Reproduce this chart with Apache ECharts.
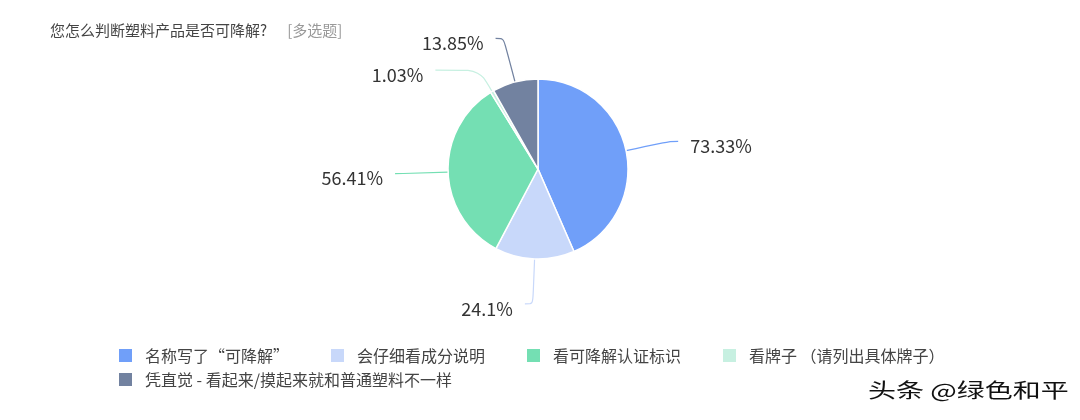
<!DOCTYPE html>
<html>
<head>
<meta charset="utf-8">
<script src="https://cdn.jsdelivr.net/npm/echarts@6/dist/echarts.min.js"></script>
<style>
html,body{margin:0;padding:0;background:#fff;}
#chart{width:1080px;height:420px;}
</style>
</head>
<body>
<div id="chart"></div>
<script>
const categories = ['名称写了“可降解”', '会仔细看成分说明', '看可降解认证标识', '看牌子 （请列出具体牌子）', '凭直觉 - 看起来/摸起来就和普通塑料不一样'];
const values = [73.33, 24.1, 56.41, 1.03, 13.85];
const colors = ['#709ff9', '#c8d8fa', '#74dfb3', '#c7f0e1', '#7282a0'];
const titleText = '您怎么判断塑料产品是否可降解?';
const titleTag = '[多选题]';
const watermark = '头条 @绿色和平';

const font = '"Noto Sans CJK SC", "Noto Sans", sans-serif';
const legendText = { fontSize: 16, color: '#444', fontFamily: font, padding: [0, 0, 0, 7] };
const chart = echarts.init(document.getElementById('chart'));
chart.setOption({
  animation: false,
  color: colors,
  textStyle: { fontFamily: font },
  title: {
    left: 45, top: 16,
    text: '{a|' + titleText + '}     {b|' + titleTag + '}',
    textStyle: {
      fontWeight: 'normal',
      rich: {
        a: { fontSize: 15, color: '#444', fontFamily: font, fontWeight: 'normal' },
        b: { fontSize: 15, color: '#999', fontFamily: font, fontWeight: 'normal' }
      }
    }
  },
  legend: [{
    left: 112, top: 342,
    itemWidth: 15, itemHeight: 15, itemGap: 40,
    icon: 'rect',
    textStyle: legendText,
    data: categories.slice(0, 4)
  }, {
    left: 112, top: 366,
    itemWidth: 15, itemHeight: 15, itemGap: 40,
    icon: 'rect',
    textStyle: legendText,
    data: categories.slice(4)
  }],
  graphic: [{
    type: 'text', x: 868, y: 390, scaleX: 1.4, scaleY: 1,
    style: { text: watermark, fontSize: 20, fill: '#111', fontFamily: font,
      textAlign: 'left', textVerticalAlign: 'middle',
      textShadowColor: 'rgba(150,150,150,0.8)', textShadowOffsetX: 1, textShadowOffsetY: 1, textShadowBlur: 0 }
  }],
  series: [{
    type: 'pie',
    center: [538, 169],
    radius: 90,
    startAngle: 90,
    clockwise: true,
    itemStyle: { borderColor: '#fff', borderWidth: 1.5 },
    label: {
      formatter: '{s| }\n{v|{c}%}',
      color: '#333', fontFamily: font,
      padding: [0, 7, 0, 7],
      rich: {
        s: { fontSize: 2, lineHeight: 10 },
        v: { fontSize: 18, lineHeight: 22, color: '#333', fontFamily: font }
      }
    },
    labelLine: { length: 45, length2: 8, smooth: 0.3, lineStyle: { width: 1.2 } },
    data: categories.map((n, i) => (i === 3
      ? { name: n, value: values[i], labelLine: { length: 25, length2: 44 } }
      : { name: n, value: values[i] }))
  }]
});
</script>
</body>
</html>
